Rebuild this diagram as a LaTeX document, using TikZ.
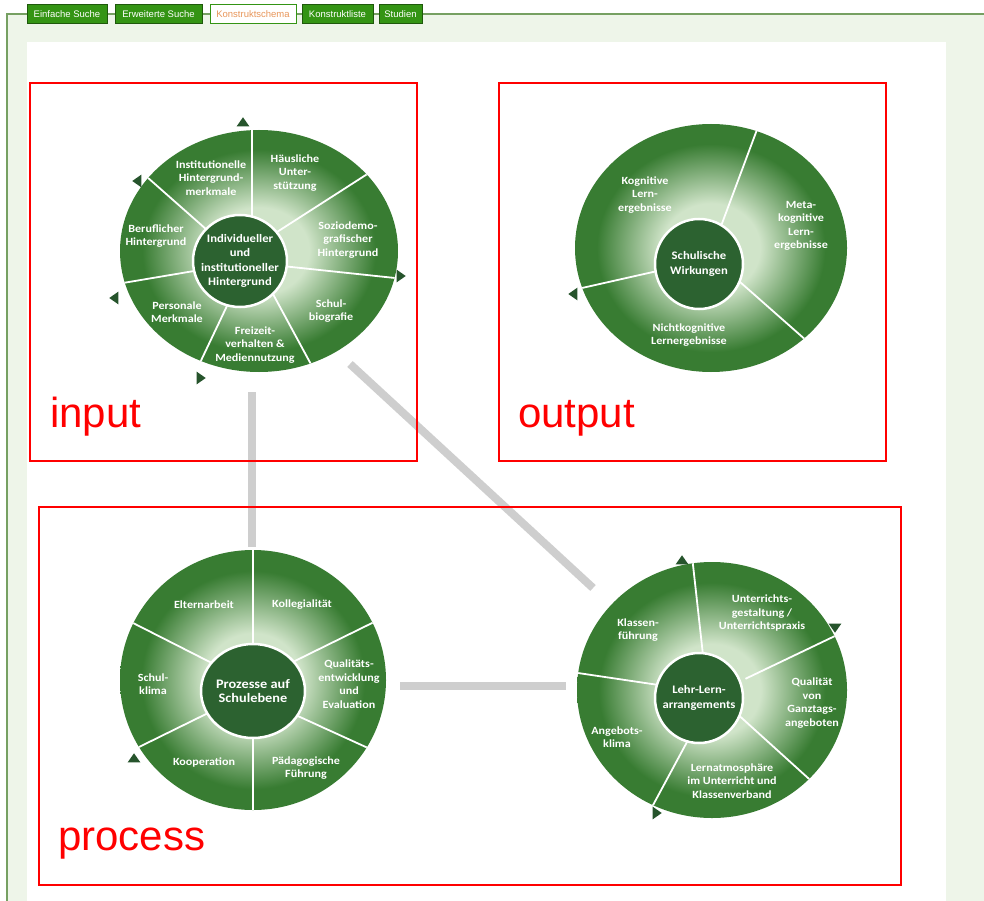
\documentclass[tikz,border=0pt]{standalone}
\usepackage{fontspec}
\setmainfont{Liberation Sans}
\newfontfamily\wheelfont[FakeStretch=1.1]{Carlito}
\usetikzlibrary{shapes.geometric}
\definecolor{ringdark}{RGB}{56,124,50}
\definecolor{ringlight}{RGB}{208,228,201}
\definecolor{coregreen}{RGB}{44,98,48}
\definecolor{tipgreen}{RGB}{38,84,44}
\definecolor{tabgreen}{RGB}{52,148,20}
\definecolor{tabtext}{RGB}{232,150,90}
\definecolor{pagegreen}{RGB}{238,245,233}
\definecolor{framegreen}{RGB}{118,160,98}
\definecolor{linkgray}{RGB}{206,206,206}
\pgfdeclareradialshading{wheelshade}{\pgfpoint{0bp}{0bp}}{color(0bp)=(ringlight); color(9bp)=(ringlight); color(21bp)=(ringdark); color(50bp)=(ringdark)}
\begin{document}
\begin{tikzpicture}[x=1pt, y=-1pt,
    tab/.style={fill=tabgreen, draw=tabgreen!60!black, text=white, font=\fontsize{9.5}{10}\selectfont, inner sep=0pt, minimum height=19pt},
    wheel/.style={ellipse, shade, shading=wheelshade, inner sep=0pt},
    core/.style={ellipse, fill=coregreen, draw=white, line width=2.5pt, inner sep=0pt},
    coretext/.style={text=white, align=center, inner sep=0pt, font=\wheelfont\bfseries\fontsize{#1}{14.5}\selectfont},
    coretext/.default=12,
    part/.style={text=white, align=center, inner sep=0pt, font=\wheelfont\bfseries\fontsize{11}{13.5}\selectfont},
    spoke/.style={draw=white, line width=1.8pt, shorten <=-25pt, shorten >=-25pt},
    rimtip/.style={isosceles triangle, isosceles triangle apex angle=70, fill=tipgreen, inner sep=0pt, minimum size=9pt},
    link/.style={draw=linkgray, line width=8pt},
    boxline/.style={draw=red, line width=2pt},
    boxlabel/.style={text=red, anchor=base west, inner sep=0pt, font=\fontsize{42}{42}\selectfont}]
  \useasboundingbox (0,0) rectangle (984,901);
  % page
  \fill[white] (0,0) rectangle (984,901);
  \fill[pagegreen] (7,14) rectangle (984,901);
  \fill[white] (27,42) rectangle (946,901);
  \draw[framegreen, line width=1.3pt] (984,14) -- (7,14) -- (7,901);
  % tabs
  \node[tab, minimum width=80pt] (einfach) at (67,14) {Einfache Suche};
  \node[tab, minimum width=87pt] (erweitert) at (158.5,14) {Erweiterte Suche};
  \node[tab, fill=white, draw=tabgreen, text=tabtext, minimum width=86pt] (schema) at (253,14) {Konstruktschema};
  \node[tab, minimum width=71pt] (liste) at (337.5,14) {Konstruktliste};
  \node[tab, minimum width=43pt] (studien) at (400.5,14) {Studien};
  % gray links
  \coordinate (inlinkA) at (252,392);
  \coordinate (prlinkA) at (252,547);
  \coordinate (inlinkB) at (350,364);
  \coordinate (lelinkB) at (593,588);
  \coordinate (prlinkC) at (400,686);
  \coordinate (lelinkC) at (566,686);
  \draw[link] (inlinkA) -- (prlinkA);
  \draw[link] (inlinkB) -- (lelinkB);
  \draw[link] (prlinkC) -- (lelinkC);

  % input wheel
  \node[wheel, minimum width=278pt, minimum height=242pt] (inwheel) at (259,251) {};
  \begin{scope}
    \clip (259,251) ellipse [x radius=139, y radius=121];
    \foreach \a/\b/\c/\d in {251.7/217/251.7/131, 277/232/358/180, 282/266/395/278, 280/307/313/368, 226/308/197/369, 200/270/123/283, 207/230/147/177}
      \draw[spoke] (\a,\b) -- (\c,\d);
  \end{scope}
  \node[core, minimum width=94pt, minimum height=92pt] (incore) at (240,261) {};
  \node[coretext=11.5] (incoretxt) at (incore) {Individueller\\und\\institutioneller\\Hintergrund};
  \node[part] (inst) at (211,178) {Institutionelle\\Hintergrund-\\merkmale};
  \node[part] (haus) at (295,173) {Häusliche\\Unter-\\stützung};
  \node[part] (sozio) at (348,240) {Soziodemo-\\grafischer\\Hintergrund};
  \node[part] (biog) at (331,311) {Schul-\\biografie};
  \node[part] (frei) at (255,345) {Freizeit-\\verhalten \&\\Mediennutzung};
  \node[part] (pers) at (177,312) {Personale\\Merkmale};
  \node[part] (beruf) at (156,236) {Beruflicher\\Hintergrund};
  \node[rimtip, shape border rotate=90] (intipA) at (243,123) {};
  \node[rimtip, shape border rotate=140] (intipB) at (138,181) {};
  \node[rimtip, shape border rotate=0] (intipC) at (400,276) {};
  \node[rimtip, shape border rotate=160] (intipD) at (115,298) {};
  \node[rimtip, shape border rotate=-20] (intipE) at (200,378) {};

  % output wheel
  \node[wheel, minimum width=272pt, minimum height=248pt] (outwheel) at (711,248) {};
  \begin{scope}
    \clip (711,248) ellipse [x radius=136, y radius=124];
    \foreach \a/\b/\c/\d in {730/202/755/135, 757/297/808/342, 653/272/582/288}
      \draw[spoke] (\a,\b) -- (\c,\d);
  \end{scope}
  \node[core, minimum width=88pt, minimum height=90pt] (outcore) at (699,264) {};
  \node[coretext=11.5] (outcoretxt) at (outcore) {Schulische\\Wirkungen};
  \node[part] (kogn) at (645,195) {Kognitive\\Lern-\\ergebnisse};
  \node[part] (meta) at (801,226) {Meta-\\kognitive\\Lern-\\ergebnisse};
  \node[part] (nicht) at (689,335) {Nichtkognitive\\Lernergebnisse};
  \node[rimtip, shape border rotate=180] (outtipA) at (574,294) {};

  % process wheel, school level
  \node[wheel, minimum width=266pt, minimum height=260pt] (prwheel) at (253,680) {};
  \begin{scope}
    \clip (253,680) ellipse [x radius=133, y radius=130];
    \foreach \a/\b/\c/\d in {253/643/253/552, 303/657/368/625, 300/717/368/748, 253/738/253/807, 200/717/137/748, 200/657/137/625}
      \draw[spoke] (\a,\b) -- (\c,\d);
  \end{scope}
  \node[core, minimum width=104pt, minimum height=94pt] (prcore) at (253,691) {};
  \node[coretext=13] (prcoretxt) at (prcore) {Prozesse auf\\Schulebene};
  \node[part] (eltern) at (204,605) {Elternarbeit};
  \node[part] (kolleg) at (302,605) {Kollegialität};
  \node[part] (qual) at (349,684) {Qualitäts-\\entwicklung\\und\\Evaluation};
  \node[part] (paed) at (306,768) {Pädagogische\\Führung};
  \node[part] (koop) at (204,762) {Kooperation};
  \node[part] (klima) at (153,684) {Schul-\\klima};
  \node[rimtip, shape border rotate=100] (prtipA) at (134,759) {};

  % process wheel, teaching
  \node[wheel, minimum width=270pt, minimum height=256pt] (lewheel) at (712,690) {};
  \begin{scope}
    \clip (712,690) ellipse [x radius=135, y radius=128];
    \foreach \a/\b/\c/\d in {703/655/693/565, 768/668/837/635, 755/730/808/778, 687/742/652/807, 652/684/578/673}
      \draw[spoke] (\a,\b) -- (\c,\d);
  \end{scope}
  \node[core, minimum width=88pt, minimum height=90pt] (lecore) at (699,698) {};
  \node[coretext=11.5] (lecoretxt) at (lecore) {Lehr-Lern-\\arrangements};
  \node[part] (klassen) at (638,630) {Klassen-\\führung};
  \node[part] (unterr) at (762,613) {Unterrichts-\\gestaltung /\\Unterrichtspraxis};
  \node[part] (ganz) at (812,703) {Qualität\\von\\Ganztags-\\angeboten};
  \node[part] (atmo) at (732,781) {Lernatmosphäre\\im Unterricht und\\Klassenverband};
  \node[part] (angeb) at (617,737) {Angebots-\\klima};
  \node[rimtip, shape border rotate=90] (letipA) at (682,561) {};
  \node[rimtip, shape border rotate=-90] (letipB) at (835,627) {};
  \node[rimtip, shape border rotate=-10] (letipC) at (656,813) {};

  % red boxes
  \draw[boxline] (30,83) rectangle (417,461);
  \draw[boxline] (499,83) rectangle (886,461);
  \draw[boxline] (39,507) rectangle (901,885);
  \node[boxlabel] (inlabel) at (50,427) {input};
  \node[boxlabel] (outlabel) at (518,427) {output};
  \node[boxlabel] (prlabel) at (58,850) {process};
\end{tikzpicture}
\end{document}
